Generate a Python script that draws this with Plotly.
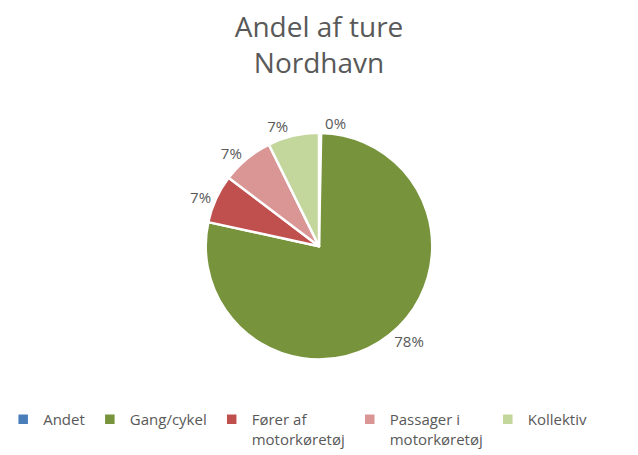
import plotly.graph_objects as go

# data
kategorier = ["Andet", "Gang/cykel", "Fører af<br>motorkøretøj", "Passager i<br>motorkøretøj", "Kollektiv"]
andele = [0.3, 78.1, 6.9, 7.4, 7.3]
farver = ["#4A7EBB", "#77933C", "#C0504D", "#D99694", "#C3D69B"]

GRAA = "#595959"
FONT = "Open Sans, Liberation Sans, Arial, sans-serif"

fig = go.Figure()
fig.add_pie(
    labels=kategorier,
    values=andele,
    sort=False,
    direction="clockwise",
    rotation=0,
    marker=dict(colors=farver, line=dict(color="white", width=2.5)),
    textposition="outside",
    texttemplate="%{percent:.0%}",
    textfont=dict(family=FONT, size=15, color=GRAA),
    domain=dict(x=[0, 1], y=[0.21, 0.708]),
    hoverinfo="label+percent",
)

fig.update_layout(
    width=638,
    height=455,
    margin=dict(l=0, r=0, t=0, b=0, autoexpand=False),
    paper_bgcolor="white",
    plot_bgcolor="white",
    font=dict(family=FONT, color=GRAA),
    title=dict(
        text="Andel af ture<br>Nordhavn",
        x=0.5, xanchor="center",
        y=0.919, yanchor="top",
        font=dict(family=FONT, size=28, color=GRAA),
    ),
    showlegend=True,
    legend=dict(
        orientation="h",
        x=0.005, xanchor="left",
        y=0.0, yanchor="bottom",
        font=dict(family=FONT, size=15, color=GRAA),
        traceorder="normal",
        valign="top",
        itemwidth=30,
    ),
)

fig.write_html(
    "out.html",
    config={"displayModeBar": False},
    post_script="document.body.style.margin='0';",
)
